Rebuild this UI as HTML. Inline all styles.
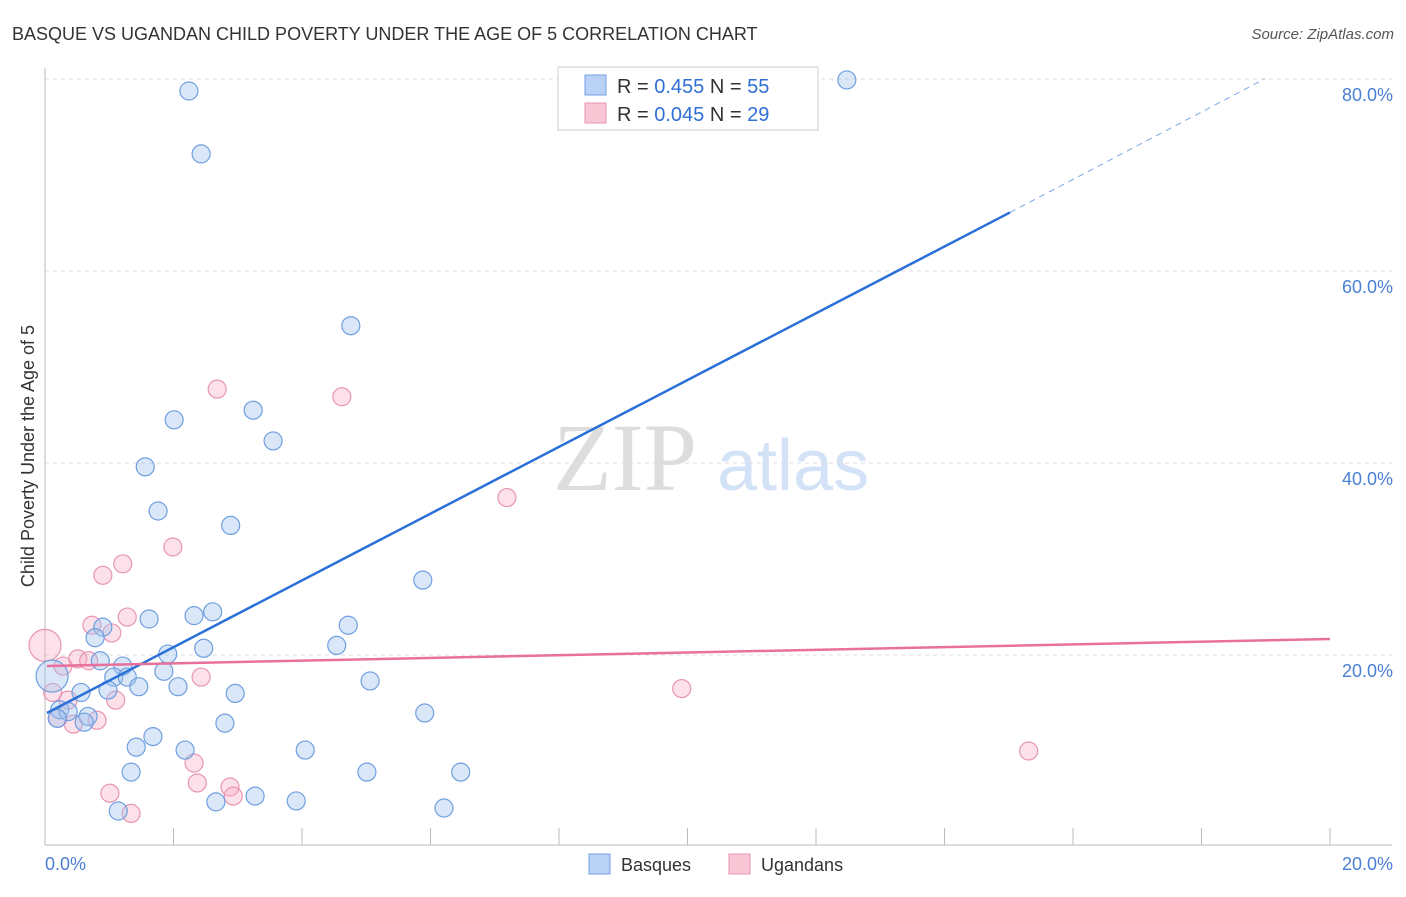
<!DOCTYPE html>
<html><head><meta charset="utf-8"><style>
body{margin:0;background:#fff;font-family:"Liberation Sans",sans-serif;}
svg text{font-family:"Liberation Sans",sans-serif;}
</style></head><body>
<svg id="chart" width="1406" height="892" viewBox="0 0 1406 892" xmlns="http://www.w3.org/2000/svg">
<text x="12" y="40" font-size="18" fill="#333">BASQUE VS UGANDAN CHILD POVERTY UNDER THE AGE OF 5 CORRELATION CHART</text>
<text x="1394" y="39" font-size="15" fill="#555" font-style="italic" text-anchor="end">Source: ZipAtlas.com</text>
<text x="553" y="490" font-size="96" fill="#ddd" font-family="Liberation Serif" style="font-family:'Liberation Serif',serif">ZIP</text>
<text x="717" y="490" font-size="72" fill="#d3e2f6">atlas</text>
<g id="grid"></g>
<g id="axes"></g>
<g id="pts"></g>
<g id="lines"></g>
<text transform="translate(34,456) rotate(-90)" font-size="18" fill="#333" text-anchor="middle">Child Poverty Under the Age of 5</text>
<g>
<rect x="558" y="67" width="260" height="63" fill="#fff" stroke="#ccc"/>
<rect x="585" y="75" width="21" height="20" fill="#b9d1f4" stroke="#6f9fe0"/>
<rect x="585" y="103" width="21" height="20" fill="#f9c6d6" stroke="#e895b0"/>
<text x="617" y="93" font-size="20" fill="#333">R = <tspan fill="#2f6fd6">0.455</tspan>   N = <tspan fill="#2f6fd6">55</tspan></text>
<text x="617" y="121" font-size="20" fill="#333">R = <tspan fill="#2f6fd6">0.045</tspan>   N = <tspan fill="#2f6fd6">29</tspan></text>
</g>
<g>
<rect x="589" y="854" width="21" height="20" fill="#b9d1f4" stroke="#6f9fe0"/>
<text x="621" y="871" font-size="18" fill="#333">Basques</text>
<rect x="729" y="854" width="21" height="20" fill="#f9c6d6" stroke="#e895b0"/>
<text x="761" y="871" font-size="18" fill="#333">Ugandans</text>
</g>
</svg>
<script>
const basqueX=[2.24,2.43,4.76,3.24,2.01,3.55,1.56,1.76,2.89,5.88,2.61,2.32,1.62,4.72,0.90,0.78,4.54,2.47,1.91,0.86,1.21,1.85,1.07,1.28,5.06,1.46,2.07,0.56,0.98,2.96,0.11,5.91,0.23,0.36,0.67,0.61,0.19,2.80,1.68,1.42,2.18,4.05,1.34,5.01,6.47,3.27,2.66,3.91,1.14,6.21,12.48,10.94];
const basqueY=[78.75,72.2,54.3,45.5,44.5,42.3,39.6,35.0,33.5,27.8,24.5,24.1,23.75,23.1,22.9,21.8,21.0,20.7,20.1,19.4,18.85,18.3,17.7,17.7,17.3,16.7,16.7,16.1,16.35,16.0,17.8,13.96,14.3,14.1,13.6,13.0,13.4,12.9,11.5,10.4,10.1,10.1,7.8,7.8,7.8,5.3,4.7,4.8,3.75,4.06,79.9,80.0];
const ugandaX=[2.68,4.62,7.19,1.99,1.21,0.90,1.28,0.73,1.04,0.0,0.51,0.68,0.28,2.43,9.91,0.12,1.10,0.36,0.81,0.44,0.20,15.31,2.32,2.37,2.88,2.93,1.01,1.34];
const ugandaY=[47.7,46.9,36.4,31.25,29.5,28.3,23.95,23.1,22.3,21.0,19.6,19.4,18.85,17.7,16.5,16.1,15.3,15.3,13.2,12.8,13.4,10.0,8.75,6.67,6.25,5.3,5.6,3.5];
const yTicks=[20,40,60,80];
const yTickLabels=["20.0%","40.0%","60.0%","80.0%"];
const xTicks=[2,4,6,8,10,12,14,16,18,20];
const blueTrend=[13.96,66.1,80.0]; // y at x=0.03, 15.02, 18.98
const blueTrendX=[0.03,15.02,18.98];
const pinkTrendX=[0.03,20];
const pinkTrend=[18.85,21.67];
const NS="http://www.w3.org/2000/svg";
const X=v=>45+v*64.25, Y=v=>847-v*9.6;
function mk(tag,attrs,parent){const e=document.createElementNS(NS,tag);for(const k in attrs)e.setAttribute(k,attrs[k]);parent.appendChild(e);return e;}
const grid=document.getElementById('grid'),axes=document.getElementById('axes'),pts=document.getElementById('pts'),lines=document.getElementById('lines');
yTicks.forEach((t,i)=>{
 const l=mk('line',{x1:45,x2:1392,y1:Y(t),y2:Y(t),stroke:'#ddd','stroke-dasharray':'4,4'},grid);
 
 
 const tx=mk('text',{x:1393,y:Y(t)+22,'font-size':18,fill:'#4a7fd4','text-anchor':'end'},axes);
 tx.textContent=yTickLabels[i];
 
 
});
mk('line',{x1:45,x2:45,y1:68,y2:845,stroke:'#bbb'},axes);
mk('line',{x1:45,x2:1392,y1:845,y2:845,stroke:'#bbb'},axes);
xTicks.forEach(t=>{const l=mk('line',{x1:X(t),x2:X(t),y1:828,y2:845,stroke:'#bbb'},axes);
 
 });
let a=mk('text',{x:45,y:870,'font-size':18,fill:'#4a7fd4'},axes);a.textContent='0.0%';


a=mk('text',{x:1393,y:870,'font-size':18,fill:'#4a7fd4','text-anchor':'end'},axes);a.textContent='20.0%';


ugandaX.forEach((x,i)=>{const c=mk('circle',{cx:X(x),cy:Y(ugandaY[i]),r:x===0?16:9,fill:'rgba(245,170,195,0.35)',stroke:'#e895b0','stroke-width':1.2},pts);
 
 });
basqueX.forEach((x,i)=>{const c=mk('circle',{cx:X(x),cy:Y(basqueY[i]),r:i===30?16:9,fill:'rgba(160,195,240,0.4)',stroke:'#6f9fe0','stroke-width':1.2},pts);
 
 });
let l=mk('line',{x1:X(blueTrendX[0]),y1:Y(blueTrend[0]),x2:X(blueTrendX[1]),y2:Y(blueTrend[1]),stroke:'#2a70d8','stroke-width':2.5},lines);


l=mk('line',{x1:X(blueTrendX[1]),y1:Y(blueTrend[1]),x2:X(blueTrendX[2]),y2:Y(blueTrend[2]),stroke:'#7aa6e6','stroke-width':1,'stroke-dasharray':'6,5'},lines);


l=mk('line',{x1:X(pinkTrendX[0]),y1:Y(pinkTrend[0]),x2:X(pinkTrendX[1]),y2:Y(pinkTrend[1]),stroke:'#e8709a','stroke-width':2.5},lines);


</script>
</body></html>
